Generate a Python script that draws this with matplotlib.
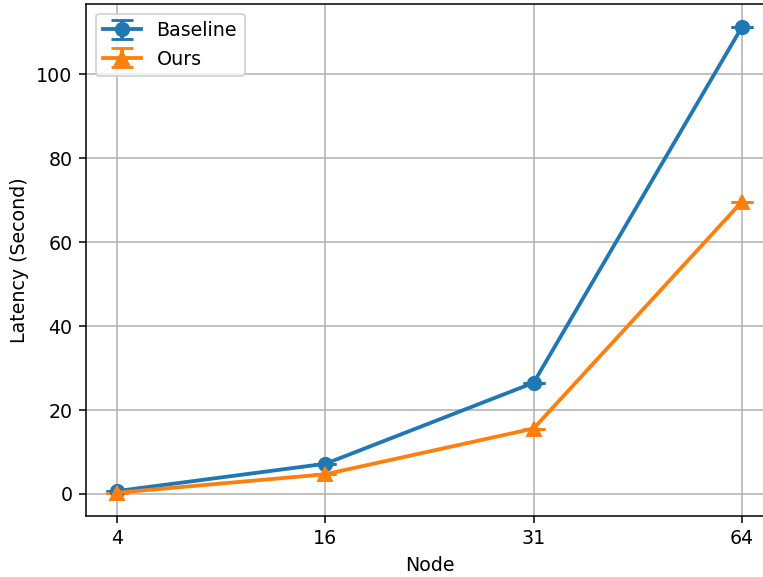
import matplotlib
matplotlib.use("Agg")
import matplotlib.pyplot as plt
import numpy as np

nodes = ["4", "16", "31", "64"]
baseline = [0.7, 7.2, 26.5, 111.2]
baseline_err = [0.0, 0.0, 0.0, 0.0]
ours = [0.3, 4.7, 15.6, 69.6]
ours_err = [0.0, 0.0, 0.0, 0.0]

DPI = 137
fig = plt.figure(figsize=(763/DPI, 577/DPI), dpi=DPI)
ax = fig.add_axes([86/763, 61/577, 687/763, 512/577])
x = np.arange(len(nodes))
ax.errorbar(x, baseline, yerr=baseline_err, marker='o', markersize=7, linewidth=2,
            capsize=6, capthick=1.5, color='#1f77b4', label='Baseline')
ax.errorbar(x, ours, yerr=ours_err, marker='^', markersize=7, linewidth=2,
            capsize=6, capthick=1.5, color='#ff7f0e', label='Ours')
ax.set_xticks(x)
ax.set_xticklabels(nodes)
ax.set_xlabel('Node')
ax.set_ylabel('Latency (Second)')
ax.grid(True, color='#b0b0b0', linewidth=0.8)
ax.legend(loc='upper left')
fig.savefig('out.png', dpi=DPI)
